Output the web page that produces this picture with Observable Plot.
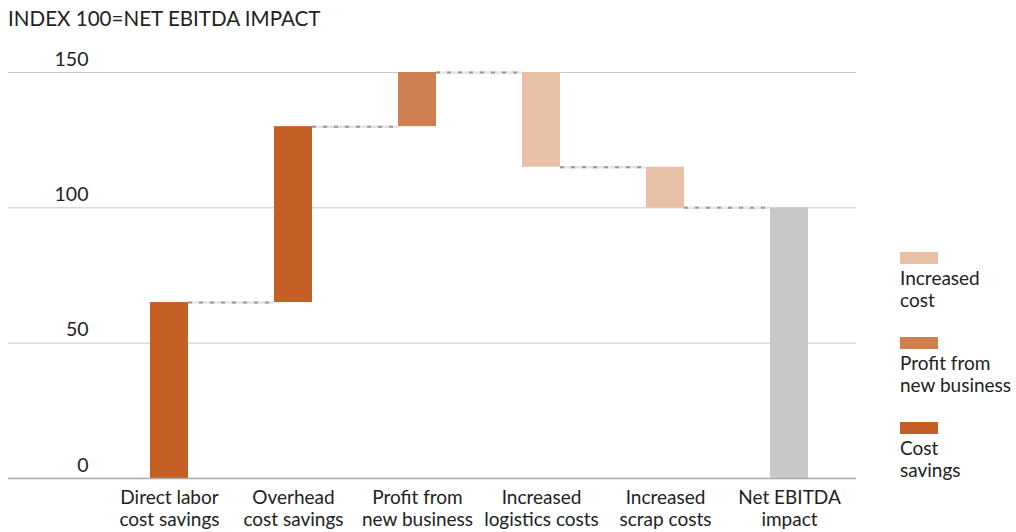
<!DOCTYPE html>
<html>
<head>
<meta charset="utf-8">
<script src="https://cdn.jsdelivr.net/npm/d3@7"></script>
<script src="https://cdn.jsdelivr.net/npm/@observablehq/plot@0.6"></script>
<style>
  html, body { margin: 0; padding: 0; background: #fff; }
  body { width: 1016px; height: 532px; position: relative; overflow: hidden; font-family: Lato, "Noto Sans", sans-serif; color: #222; }
  #title { height: 40px; box-sizing: border-box; padding: 6px 0 0 8px; font-size: 20.6px; line-height: 24px; }
  #legend { position: absolute; left: 900px; top: 252px; font-size: 19px; line-height: 22px; }
  .item { height: 85px; }
  .sw { width: 38px; height: 12px; margin-bottom: 3px; }
</style>
</head>
<body>
<div id="title">INDEX 100=NET EBITDA IMPACT</div>
<div id="chart"></div>
<div id="legend"></div>
<script>
// Data
const categories = [
  "Direct labor\ncost savings",
  "Overhead\ncost savings",
  "Profit from\nnew business",
  "Increased\nlogistics costs",
  "Increased\nscrap costs",
  "Net EBITDA\nimpact"
];
const barStart = [0, 65, 130, 150, 115, 0];
const barEnd   = [65, 130, 150, 115, 100, 100];
const barType  = ["Cost savings", "Cost savings", "Profit from new business", "Increased cost", "Increased cost", "Net"];
const yTicks = [0, 50, 100, 150];

const typeDomain = ["Increased cost", "Profit from new business", "Cost savings", "Net"];
const typeColors = ["#E8C0A6", "#CF8050", "#C55F25", "#C7C8CA"];
const legendLabels = ["Increased\ncost", "Profit from\nnew business", "Cost\nsavings"];

const bars = categories.map((c, i) => ({cat: c, y1: barStart[i], y2: barEnd[i], type: barType[i]}));
const connectors = categories.slice(0, -1).map((c, i) => ({from: c, to: categories[i + 1], y: barEnd[i]}));

const padInner = 1 - 38 / (746 / 6);
const bandwidth = 38;

const chart = Plot.plot({
  width: 1016,
  height: 492,
  marginTop: 32,
  marginBottom: 54,
  marginLeft: 8,
  marginRight: 160,
  style: {fontFamily: "Lato, 'Noto Sans', sans-serif", fontSize: "19px", color: "#222", background: "transparent"},
  x: {domain: categories, range: [106, 852], paddingInner: padInner, paddingOuter: padInner / 2, label: null},
  y: {domain: [0, 150], label: null},
  color: {domain: typeDomain, range: typeColors},
  marks: [
    Plot.ruleY(yTicks.filter(d => d > 0), {stroke: "#c8c8c8", strokeWidth: 1}),
    Plot.barY(bars, {x: "cat", y1: "y1", y2: "y2", fill: "type"}),
    Plot.ruleY(connectors, {x1: "from", x2: "to", y: "y", insetLeft: bandwidth, insetRight: bandwidth, stroke: "#e4e4e4", strokeWidth: 2.5}),
    Plot.ruleY(connectors, {x1: "from", x2: "to", y: "y", insetLeft: bandwidth, insetRight: bandwidth, stroke: "#999", strokeWidth: 2, strokeDasharray: "4,7"}),
    Plot.ruleY([0], {stroke: "#aaa", strokeWidth: 1.5}),
    Plot.axisY({ticks: yTicks, tickSize: 0, tickPadding: 3, dx: 83, dy: -13, textAnchor: "end", label: null, fill: "#222", fontSize: 19.5}),
    Plot.axisX({tickSize: 0, tickPadding: 10, lineHeight: 1.16, label: null, fill: "#222"})
  ]
});
document.getElementById("chart").appendChild(chart);

const legend = document.getElementById("legend");
legendLabels.forEach((lab, i) => {
  const item = document.createElement("div");
  item.className = "item";
  const sw = document.createElement("div");
  sw.className = "sw";
  sw.style.background = typeColors[i];
  item.appendChild(sw);
  lab.split("\n").forEach(line => {
    const t = document.createElement("div");
    t.textContent = line;
    item.appendChild(t);
  });
  legend.appendChild(item);
});
</script>
</body>
</html>
